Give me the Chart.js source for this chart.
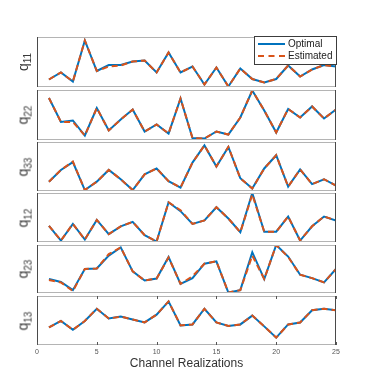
<!DOCTYPE html>
<html>
<head>
<meta charset="utf-8">
<script src="https://cdn.jsdelivr.net/npm/chart.js@4.4.1/dist/chart.umd.min.js"></script>
<style>
  body { margin: 0; background: #fff; }
  #fig { position: relative; width: 374px; height: 384px; font-family: "Liberation Sans", Arial, sans-serif; }
  #fig canvas { position: absolute; left: 0; }
  .ylab { position: absolute; transform: translate(-50%, -50%) rotate(-90deg); font-size: 14px; font-weight: normal; color: #3a3a3a; white-space: nowrap; }
  .ylab sub { font-size: 10px; }
  #legend { position: absolute; left: 254px; top: 36px; width: 81px; height: 27px; border: 1px solid #3c3c3c; background: #fff; font-size: 10px; color: #222; }
  #legend .row { position: absolute; left: 3px; height: 12px; line-height: 12px; }
  #legend .swatch { position: absolute; left: 0; top: 5px; width: 27px; height: 0; border-top: 2px solid; }
  #legend .txt { position: absolute; left: 30px; top: 0; white-space: nowrap; }
</style>
</head>
<body>
<div id="fig"></div>
<script>
// channel realization index (x) and x tick labels
const realizations = [1, 2, 3, 4, 5, 6, 7, 8, 9, 10, 11, 12, 13, 14, 15, 16, 17, 18, 19, 20, 21, 22, 23, 24, 25];
const xTicks = [0, 5, 10, 15, 20, 25];

// values (relative units, 0..100 per panel)
const q11Opt = [15, 29, 11, 93, 32, 44, 44, 51, 53, 29, 69, 29, 41, 5, 39, 1, 37, 16, 9, 16, 43, 21, 35, 44, 41];
const q11Est = [15, 29, 11, 93, 32, 41, 43, 51, 53, 29, 69, 29, 41, 5, 39, 1, 37, 16, 9, 16, 43, 21, 35, 44, 41];
const q22Opt = [84, 36, 39, 9, 64, 19, 41, 61, 17, 31, 13, 83, 4, 3, 17, 11, 45, 99, 59, 15, 62, 45, 67, 43, 61];
const q22Est = [84, 36, 36, 9, 64, 19, 41, 61, 17, 31, 13, 83, 4, 3, 17, 11, 45, 99, 59, 15, 62, 45, 67, 43, 61];
const q33Opt = [19, 43, 59, 2, 19, 43, 24, 2, 34, 46, 20, 7, 58, 93, 50, 90, 26, 5, 46, 73, 9, 44, 14, 24, 11];
const q33Est = [19, 43, 60, 2, 19, 43, 24, 2, 34, 46, 20, 7, 58, 93, 50, 90, 26, 5, 46, 73, 9, 44, 14, 24, 11];
const q12Opt = [33, 3, 37, 5, 45, 16, 32, 41, 14, 1, 81, 63, 37, 44, 71, 48, 20, 100, 21, 21, 52, 3, 32, 52, 44];
const q12Est = [33, 3, 37, 5, 45, 16, 32, 41, 14, 1, 81, 65, 37, 44, 71, 48, 20, 97, 21, 21, 52, 3, 32, 52, 44];
const q23Opt = [29, 23, 6, 50, 51, 78, 95, 45, 26, 30, 75, 19, 31, 61, 66, 1, 6, 85, 29, 100, 76, 38, 31, 22, 50];
const q23Est = [27, 22, 4, 50, 51, 81, 95, 45, 26, 30, 74, 19, 35, 61, 66, 1, 6, 78, 29, 100, 75, 38, 31, 22, 50];
const q13Opt = [36, 49, 31, 49, 74, 54, 58, 52, 46, 62, 89, 40, 42, 74, 46, 39, 42, 60, 38, 15, 42, 46, 71, 74, 71];
const q13Est = [36, 49, 31, 49, 74, 54, 58, 52, 46, 62, 89, 40, 42, 74, 46, 39, 42, 60, 38, 15, 42, 46, 71, 74, 71];

const panels = [
  { sub: "11", opt: q11Opt, est: q11Est },
  { sub: "22", opt: q22Opt, est: q22Est },
  { sub: "33", opt: q33Opt, est: q33Est },
  { sub: "12", opt: q12Opt, est: q12Est },
  { sub: "23", opt: q23Opt, est: q23Est },
  { sub: "13", opt: q13Opt, est: q13Est }
];

const tops = [37, 90, 142, 193, 245, 296];
const bottoms = [87, 140, 191, 242, 293, 345];
const LEFT = 37, RIGHT = 336, W = 374;
const BLUE = "#0072BD", ORANGE = "#D95319";

const framePlugin = {
  id: "frame",
  afterDatasetsDraw(chart, args, opts) {
    const { ctx, chartArea: a } = chart;
    ctx.save();
    ctx.lineWidth = 1;
    ctx.strokeStyle = "#b4b4b4";
    ctx.beginPath();
    ctx.moveTo(a.left, a.top + 0.5); ctx.lineTo(a.right, a.top + 0.5);
    ctx.moveTo(a.left, a.bottom - 0.5); ctx.lineTo(a.right, a.bottom - 0.5);
    ctx.stroke();
    ctx.strokeStyle = "#4a4a4a";
    ctx.beginPath();
    ctx.moveTo(a.left + 0.5, a.top); ctx.lineTo(a.left + 0.5, a.bottom);
    ctx.moveTo(a.right - 0.5, a.top); ctx.lineTo(a.right - 0.5, a.bottom);
    ctx.stroke();
    if (opts.ticks) {
      const x = chart.scales.x;
      ctx.strokeStyle = "#555";
      ctx.beginPath();
      xTicks.forEach(v => {
        const px = Math.round(x.getPixelForValue(v)) + 0.5;
        ctx.moveTo(px, a.top); ctx.lineTo(px, a.top + 3);
        ctx.moveTo(px, a.bottom); ctx.lineTo(px, a.bottom - 3);
      });
      ctx.stroke();
    }
    ctx.restore();
  }
};

const fig = document.getElementById("fig");

panels.forEach((p, i) => {
  const last = i === panels.length - 1;
  const canvas = document.createElement("canvas");
  const top = tops[i] - 2;
  const h = last ? 384 - top : bottoms[i] - tops[i] + 4;
  canvas.width = W;
  canvas.height = h;
  canvas.style.top = top + "px";
  fig.appendChild(canvas);

  const toPts = arr => realizations.map((x, k) => ({ x, y: arr[k] }));

  new Chart(canvas, {
    type: "line",
    data: {
      datasets: [
        { label: "Optimal", data: toPts(p.opt), borderColor: BLUE, borderWidth: 2, pointRadius: 0, tension: 0, order: 1 },
        { label: "Estimated", data: toPts(p.est), borderColor: ORANGE, borderWidth: 2, borderDash: [6, 4], pointRadius: 0, tension: 0, order: 0 }
      ]
    },
    options: {
      responsive: false,
      animation: false,
      layout: { padding: { left: LEFT, right: W - RIGHT, top: 2, bottom: last ? 1 : 2 } },
      plugins: { legend: { display: false }, tooltip: { enabled: false }, frame: { ticks: last } },
      scales: {
        x: last ? {
          type: "linear", min: 0, max: 25,
          grid: { display: false, drawTicks: false },
          border: { display: false },
          afterBuildTicks: s => { s.ticks = xTicks.map(v => ({ value: v })); },
          afterFit: s => { s.height = 38; },
          ticks: { font: { size: 7, family: "Liberation Sans" }, color: "#555", padding: 3, maxRotation: 0 },
          title: { display: true, text: "Channel Realizations", color: "#333", font: { size: 12, family: "Liberation Sans" }, padding: { top: 0, bottom: 12 } }
        } : { type: "linear", min: 0, max: 25, display: false },
        y: { min: 0, max: 100, display: false }
      }
    },
    plugins: [framePlugin]
  });

  const lab = document.createElement("div");
  lab.className = "ylab";
  lab.style.left = "24px";
  lab.style.top = ((tops[i] + bottoms[i]) / 2) + "px";
  lab.innerHTML = "q<sub>" + p.sub + "</sub>";
  fig.appendChild(lab);
});

// legend inside the top panel
const legend = document.createElement("div");
legend.id = "legend";
legend.innerHTML =
  '<div class="row" style="top:1px"><span class="swatch" style="border-top-color:' + BLUE + '"></span><span class="txt">Optimal</span></div>' +
  '<div class="row" style="top:13px"><span class="swatch" style="border-top:2px dashed ' + ORANGE + '"></span><span class="txt">Estimated</span></div>';
fig.appendChild(legend);
</script>
</body>
</html>
